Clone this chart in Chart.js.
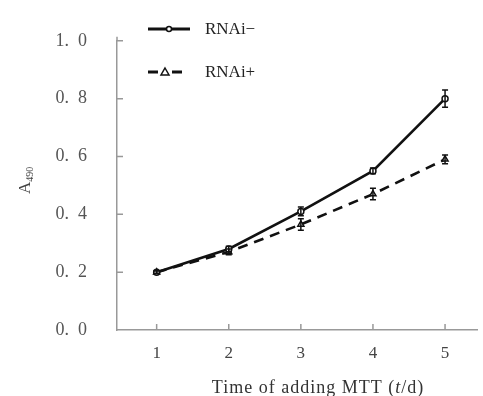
<!DOCTYPE html>
<html>
<head>
<meta charset="utf-8">
<script src="https://cdn.jsdelivr.net/npm/chart.js@4/dist/chart.umd.min.js"></script>
<style>
  html, body { margin:0; padding:0; background:#fff; }
  #wrap { width:483px; height:396px; position:relative; }
</style>
</head>
<body>
<div id="wrap"><canvas id="chart"></canvas></div>
<script>
// Data
const days = [1, 2, 3, 4, 5];
const rnaiMinus = [0.20, 0.28, 0.41, 0.55, 0.80];
const rnaiPlus = [0.20, 0.27, 0.365, 0.47, 0.59];
const errMinus = [0.005, 0.01, 0.015, 0.01, 0.03];
const errPlus = [0.005, 0.01, 0.02, 0.02, 0.015];
const yTicks = [0, 0.2, 0.4, 0.6, 0.8, 1.0];

const SERIF = '"Liberation Serif", "DejaVu Serif", serif';
const AXIS = '#999';

const toPts = (vals) => days.map((d, i) => ({x: d, y: vals[i]}));

// error bars, inward tick marks, legend, axis titles
const extras = {
  id: 'extras',
  afterDatasetsDraw(chart){
    const ctx = chart.ctx;
    const xs = chart.scales.x, ys = chart.scales.y;
    ctx.save();
    ctx.strokeStyle = '#111';
    ctx.lineWidth = 1.5;
    [[rnaiMinus, errMinus], [rnaiPlus, errPlus]].forEach(([vals, errs]) => {
      days.forEach((d, i) => {
        const px = xs.getPixelForValue(d);
        const y1 = ys.getPixelForValue(vals[i] + errs[i]);
        const y2 = ys.getPixelForValue(vals[i] - errs[i]);
        ctx.beginPath();
        ctx.moveTo(px, y1); ctx.lineTo(px, y2);
        ctx.moveTo(px - 3, y1); ctx.lineTo(px + 3, y1);
        ctx.moveTo(px - 3, y2); ctx.lineTo(px + 3, y2);
        ctx.stroke();
      });
    });
    ctx.restore();
  },
  afterDraw(chart){
    const ctx = chart.ctx;
    const xs = chart.scales.x, ys = chart.scales.y;
    const area = chart.chartArea;
    ctx.save();
    // inward ticks
    ctx.strokeStyle = AXIS;
    ctx.lineWidth = 1.5;
    ctx.beginPath();
    yTicks.slice(1).forEach(v => {
      const py = ys.getPixelForValue(v);
      ctx.moveTo(area.left, py); ctx.lineTo(area.left + 6, py);
    });
    days.forEach(d => {
      const px = xs.getPixelForValue(d);
      ctx.moveTo(px, area.bottom); ctx.lineTo(px, area.bottom - 6);
    });
    ctx.moveTo(area.left, area.top); ctx.lineTo(area.left, area.top - 4);
    ctx.stroke();

    // legend
    ctx.strokeStyle = '#111';
    ctx.fillStyle = '#111';
    ctx.lineWidth = 3;
    ctx.beginPath();
    ctx.moveTo(148, 29); ctx.lineTo(190, 29);
    ctx.stroke();
    ctx.lineWidth = 1.5;
    ctx.fillStyle = '#fff';
    ctx.beginPath(); ctx.arc(169, 29, 2.5, 0, Math.PI * 2); ctx.fill(); ctx.stroke();
    ctx.lineWidth = 3;
    ctx.beginPath();
    ctx.moveTo(148, 72); ctx.lineTo(158, 72);
    ctx.moveTo(172, 72); ctx.lineTo(182, 72);
    ctx.stroke();
    ctx.lineWidth = 1.5;
    ctx.beginPath();
    ctx.moveTo(165, 68); ctx.lineTo(169, 75); ctx.lineTo(161, 75); ctx.closePath();
    ctx.fill(); ctx.stroke();

    ctx.fillStyle = '#222';
    ctx.font = '17px ' + SERIF;
    ctx.textBaseline = 'middle';
    ctx.textAlign = 'left';
    ctx.fillText('RNAi\u2212', 205, 30);
    ctx.fillText('RNAi+', 205, 73);

    // x title with italic t
    ctx.fillStyle = '#333';
    ctx.textBaseline = 'alphabetic';
    ctx.letterSpacing = '1px';
    const parts = [['Time of adding MTT (', ''], ['t', 'italic '], ['/d)', '']];
    let total = 0;
    parts.forEach(([s, st]) => { ctx.font = st + '18px ' + SERIF; total += ctx.measureText(s).width; });
    let cx = 318 - total / 2;
    parts.forEach(([s, st]) => {
      ctx.font = st + '18px ' + SERIF;
      ctx.fillText(s, cx, 393);
      cx += ctx.measureText(s).width;
    });
    ctx.letterSpacing = '0px';

    // y title A490
    ctx.translate(30, 188);
    ctx.rotate(-Math.PI / 2);
    ctx.fillStyle = '#444';
    ctx.font = '17px ' + SERIF;
    ctx.textAlign = 'left';
    ctx.fillText('A', -6, 0);
    const aw = ctx.measureText('A').width;
    ctx.font = '10px ' + SERIF;
    ctx.fillText('490', -6 + aw, 3);
    ctx.restore();
  }
};

new Chart(document.getElementById('chart'), {
  type: 'line',
  data: {
    datasets: [
      {
        label: 'RNAi\u2212',
        data: toPts(rnaiMinus),
        borderColor: '#111',
        borderWidth: 2.6,
        pointStyle: 'circle',
        pointRadius: 3,
        pointBorderWidth: 1.5,
        pointBackgroundColor: '#fff',
        pointBorderColor: '#111',
        tension: 0,
        clip: false
      },
      {
        label: 'RNAi+',
        data: toPts(rnaiPlus),
        borderColor: '#111',
        borderWidth: 2.6,
        borderDash: [10, 7],
        pointStyle: 'triangle',
        pointRadius: 3.5,
        pointBorderWidth: 1.5,
        pointBackgroundColor: '#fff',
        pointBorderColor: '#111',
        tension: 0,
        clip: false
      }
    ]
  },
  options: {
    responsive: true,
    maintainAspectRatio: false,
    animation: false,
    layout: { padding: { top: 21, right: 0, left: 0, bottom: 0 } },
    plugins: { legend: { display: false }, tooltip: { enabled: false } },
    scales: {
      x: {
        type: 'linear',
        min: 0.45,
        max: 5.45,
        afterBuildTicks: (s) => { s.ticks = days.map(v => ({value: v})); },
        afterFit: (s) => { s.height = 66; },
        grid: { drawOnChartArea: false, drawTicks: false },
        border: { color: AXIS, width: 1.5 },
        ticks: {
          padding: 13,
          color: '#444',
          font: { family: SERIF, size: 17 },
          callback: (v) => String(v)
        }
      },
      y: {
        min: 0,
        max: 1.0,
        afterBuildTicks: (s) => { s.ticks = yTicks.map(v => ({value: v})); },
        afterFit: (s) => { s.width = 117; },
        grid: { drawOnChartArea: false, drawTicks: false },
        border: { color: AXIS, width: 1.5 },
        ticks: {
          padding: 30,
          color: '#555',
          font: { family: SERIF, size: 18 },
          callback: (v) => v.toFixed(1).replace('.', '.\u2002')
        }
      }
    }
  },
  plugins: [extras]
});
</script>
</body>
</html>
